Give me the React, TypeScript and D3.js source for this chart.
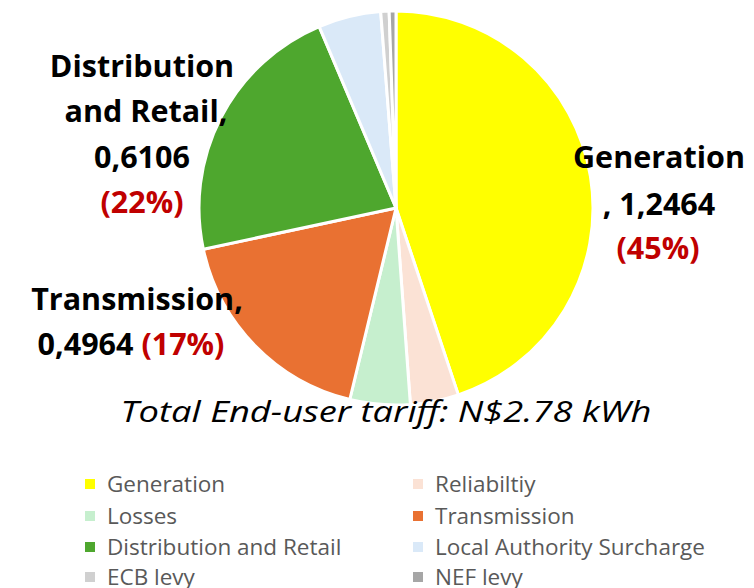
import React from "react";
import * as d3 from "d3";

const categories = [
  "Generation",
  "Reliabiltiy",
  "Losses",
  "Transmission",
  "Distribution and Retail",
  "Local Authority Surcharge",
  "ECB levy",
  "NEF levy",
];
const values = [1.2464, 0.11, 0.137, 0.4964, 0.6106, 0.1426, 0.019, 0.0154];
const colors = [
  "#FFFF00",
  "#FBE2D5",
  "#C6EFCE",
  "#E97132",
  "#4EA72E",
  "#DAE9F8",
  "#D0D0D0",
  "#A6A6A6",
];
const titleText = "Total End-user tariff: N$2.78 kWh";

const W = 754;
const H = 588;
const cx = 396;
const cy = 208;
const R = 197;

const labelFont = "'Open Sans', Lato, sans-serif";
const red = "#C00000";

export default function App() {
  const pie = d3.pie<number>().sort(null).value((d) => d)(values);
  const arc = d3.arc<d3.PieArcDatum<number>>().innerRadius(0).outerRadius(R);

  const legendX = [85, 413];
  const legendY = [484, 516, 547, 577];

  return (
    <svg
      width={W}
      height={H}
      style={{ position: "absolute", left: 0, top: 0, background: "#fff" }}
    >
      <g transform={`translate(${cx},${cy})`}>
        {pie.map((p, i) => (
          <path
            key={i}
            d={arc(p) || ""}
            fill={colors[i]}
            stroke="#fff"
            strokeWidth={3}
            strokeLinejoin="round"
          />
        ))}
      </g>

      <g fontFamily={labelFont} fontWeight="bold" fontSize={30.5} fill="#000">
        <text x={142} y={77} textAnchor="middle">Distribution</text>
        <text x={146} y={122} textAnchor="middle">and Retail,</text>
        <text x={142} y={168} textAnchor="middle">0,6106</text>
        <text x={142} y={213} textAnchor="middle" fill={red}>(22%)</text>

        <text x={659} y={168} textAnchor="middle">Generation</text>
        <text x={659} y={215} textAnchor="middle">, 1,2464</text>
        <text x={658} y={259} textAnchor="middle" fill={red}>(45%)</text>

        <text x={137} y={310} textAnchor="middle">Transmission,</text>
        <text x={131} y={355} textAnchor="middle">
          0,4964 <tspan fill={red}>(17%)</tspan>
        </text>
      </g>

      <text
        x={386}
        y={422}
        textAnchor="middle"
        fontFamily={labelFont}
        fontStyle="italic"
        fontSize={29}
        fill="#000"
        textLength={531}
        lengthAdjust="spacingAndGlyphs"
      >
        {titleText}
      </text>

      <g fontFamily={labelFont} fontSize={22.5} fill="#595959">
        {categories.map((c, i) => {
          const col = i % 2;
          const row = Math.floor(i / 2);
          return (
            <g key={c} transform={`translate(${legendX[col]},${legendY[row]})`}>
              <rect x={0} y={-5} width={10} height={10} fill={colors[i]} />
              <text x={22} y={7.5}>{c}</text>
            </g>
          );
        })}
      </g>
    </svg>
  );
}
